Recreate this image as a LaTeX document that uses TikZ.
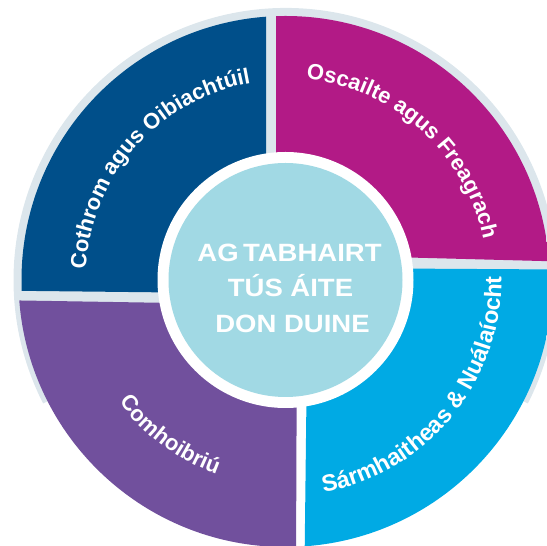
\documentclass[tikz,border=0pt]{standalone}
\usepackage{fontspec}
\setmainfont{Liberation Sans}
\usetikzlibrary{decorations.text}
\definecolor{ringgrey}{HTML}{DCE6EC}
\definecolor{dblue}{HTML}{004F8A}
\definecolor{magen}{HTML}{B21A86}
\definecolor{cyanb}{HTML}{00AAE4}
\definecolor{purp}{HTML}{71509D}
\definecolor{lblue}{HTML}{A1D9E4}
\newcommand\curvefont{\fontsize{22}{22}\selectfont\bfseries}
\newcommand\curvefontb{\fontsize{23.5}{23.5}\selectfont\bfseries}
\begin{document}
\begin{tikzpicture}[x=1pt,y=1pt,
  arctext/.style={decorate, decoration={text along path, text align=center, text color=white, text={#1}}},
  centretext/.style={white, font=\fontsize{25}{25}\selectfont\bfseries, anchor=base, inner sep=0pt}]
\useasboundingbox (0,0) rectangle (547,546);
\coordinate (O) at (285.5,266);
% grey backing ring
\fill[ringgrey] (O) -- ++(-27:272) arc[start angle=-27, end angle=207, radius=272] -- cycle;
% upper sectors
\begin{scope}
\clip (O) circle[radius=264];
\fill[dblue] (-10,255.5) -- (266,252.5) -- (266,560) -- (-10,560) -- cycle;
\fill[magen] (276,560) -- (276,292) -- (560,284.5) -- (560,560) -- cycle;
\end{scope}
% lower sectors
\begin{scope}
\clip (O) circle[radius=267];
\fill[cyanb] (308,278) -- (560,276.5) -- (560,-20) -- (304.5,-20) -- cycle;
\fill[purp] (-10,246) -- (297,241) -- (296,-20) -- (-10,-20) -- cycle;
\end{scope}
% centre
\fill[white] (O) circle[radius=128];
\fill[lblue] (O) circle[radius=117];
\node[centretext] (l1) at (289.5,284) {\scalebox{1.1}[1]{AG\kern4pt TABHAIRT}};
\node[centretext] (l2) at (290.5,249) {\scalebox{1.1}[1]{TÚS ÁITE}};
\node[centretext] (l3) at (292.5,213) {\scalebox{1.1}[1]{DON DUINE}};
% curved labels
\path[arctext={|\curvefont|Cothrom agus Oibiachtúil}] ([shift={(198.5:200)}]O) arc[start angle=198.5, end angle=78.5, radius=200];
\path[arctext={|\curvefont|Oscailte agus Freagrach}] ([shift={(107.9:202)}]O) arc[start angle=107.9, end angle=-12.1, radius=202];
\path[arctext={|\curvefontb|Sármhaitheas {\&} Nuálaíocht}] ([shift={(-99.5:216)}]O) arc[start angle=-99.5, end angle=20.5, radius=216];
\path[arctext={|\curvefont|Comhoibriú}] ([shift={(173.3:206)}]O) arc[start angle=173.3, end angle=293.3, radius=206];
\end{tikzpicture}
\end{document}
